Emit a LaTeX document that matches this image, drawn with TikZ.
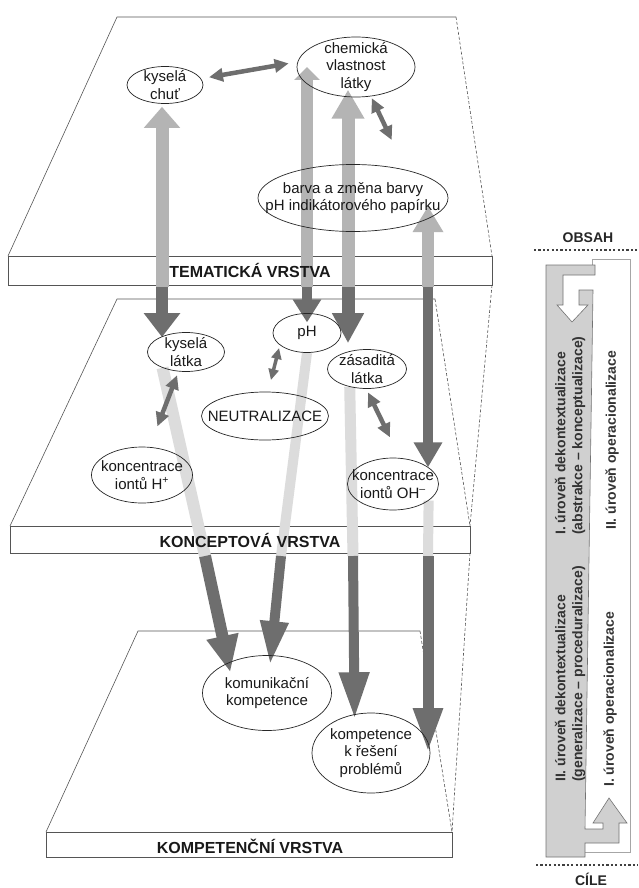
\documentclass[tikz,border=0pt]{standalone}
\usepackage{fontspec}
\setmainfont{Liberation Sans}
\usetikzlibrary{arrows.meta,shapes.geometric,calc}
\pgfdeclarelayer{back}
\pgfdeclarelayer{mid}
\pgfsetlayers{back,mid,main}
\definecolor{darkarr}{HTML}{6E6E6E}
\definecolor{lightarr}{HTML}{B4B4B4}
\definecolor{palearr}{HTML}{DCDCDC}
\definecolor{barfill}{HTML}{D0D0D0}
\definecolor{edgegray}{HTML}{555555}

\begin{document}
\begin{tikzpicture}[x=1pt,y=-1pt,
  concept/.style 2 args={ellipse,draw=black!85,line width=0.7pt,inner sep=0pt,minimum width=#1,minimum height=#2},
  every label/.style={align=center,inner sep=0pt,font=\fontsize{15}{17.5}\selectfont,text=black!90},
  layeredge/.style={draw=edgegray,line width=0.6pt},
  bandtext/.style={anchor=base,font=\fontsize{16}{19}\selectfont\bfseries,text=black!90},
  upline/.style={draw=lightarr,line width=#1},
  downline/.style={draw=darkarr,line width=#1},
  paleline/.style={draw=palearr,line width=#1},
  bighead/.style 2 args={-{Triangle[width=#1,length=#2]}},
  twoway/.style={draw=darkarr,line width=4.5pt,{Triangle[width=13pt,length=14pt]}-{Triangle[width=13pt,length=14pt]}},
  sidetext/.style={rotate=90,anchor=west,align=left,inner sep=0pt,font=\fontsize{14}{17}\selectfont\bfseries,text=black!80},
  endtext/.style={anchor=base,font=\fontsize{14}{17}\selectfont\bfseries,text=black!85},
  dotline/.style={draw=black!75,line width=2.2pt,dash pattern=on 2.2pt off 2.2pt}]
\useasboundingbox (0,0) rectangle (638,888);

\node[concept={76pt}{37pt},label={center:kyselá\\chuť}] (kchut) at (165,85) {};
\node[concept={118pt}{60pt},label={center:chemická\\vlastnost\\látky}] (chem) at (356,67) {};
\node[concept={190pt}{67pt},label={center:barva a změna barvy\\pH indikátorového papírku}] (barva) at (353,198) {};
\node[concept={68pt}{39pt},label={center:pH}] (ph) at (307,333) {};
\node[concept={77pt}{39pt},label={center:kyselá\\látka}] (klat) at (186,352) {};
\node[concept={79pt}{39pt},label={center:zásaditá\\látka}] (zlat) at (367,369) {};
\node[concept={127pt}{48pt},label={center:NEUTRALIZACE}] (neut) at (265,416) {};
\node[concept={101pt}{56pt},label={center:koncentrace\\iontů H\textsuperscript{+}}] (kh) at (142,475) {};
\node[concept={91pt}{52pt},label={center:koncentrace\\iontů OH\textsuperscript{--}}] (koh) at (393,484) {};
\node[concept={129pt}{75pt},label={center:komunikační\\kompetence}] (kom) at (267,693) {};
\node[concept={118pt}{80pt},label={center:kompetence\\k řešení\\problémů}] (kres) at (371,753) {};

\node[bandtext] (tband) at (250,277) {TEMATICKÁ VRSTVA};
\node[bandtext] (cband) at (250,547) {KONCEPTOVÁ VRSTVA};
\node[bandtext] (kband) at (250,853) {KOMPETENČNÍ VRSTVA};

\foreach \col/\xa/\xb in {a/162/205, b/307/281, c/348/353, d/428/428} {
  \coordinate (\col1) at (\xa,287);
  \coordinate (\col2) at (\xb,556);
}

\begin{pgfonlayer}{back}
\foreach \tlx/\trx/\ty/\blx/\brx/\by/\bby in {117/456/17/8/492/256/285, 117/435/299/10/470/526/553, 138/420/631/46/452/832/857} {
  \fill[white] (\tlx,\ty) -- (\trx,\ty) -- (\brx,\by) -- (\blx,\by) -- cycle;
  \draw[layeredge] (\trx,\ty) -- (\tlx,\ty) -- (\blx,\by);
  \draw[layeredge,dash pattern=on 3pt off 2pt] (\trx,\ty) -- (\brx,\by);
  \draw[layeredge,fill=white] (\blx,\by) rectangle (\brx,\bby);
}
\draw[layeredge,dash pattern=on 3pt off 2pt] (492,285) -- (470,526);
\draw[layeredge,dash pattern=on 3pt off 2pt] (470,553) -- (452,832);
\end{pgfonlayer}

\begin{pgfonlayer}{mid}
\draw[upline=13pt,bighead={35pt}{21pt},shorten >=3pt] (a1) -- (a1 |- kchut.south);
\draw[upline=12pt,bighead={25pt}{13pt}] (b1) -- (b1 |- chem.center);
\draw[upline=13pt,bighead={31pt}{29pt}] (c1) -- (c1 |- chem.-150);
\draw[upline=12pt,bighead={29pt}{26pt}] (d1) -- (d1 |- barva.-5);
\draw[downline=12pt,bighead={35pt}{24pt}] (a1) -- (a1 |- klat.150);
\draw[downline=10pt,bighead={27pt}{23pt}] (b1) -- (b1 |- ph.160);
\draw[downline=13pt,bighead={30pt}{30pt},shorten >=6pt] (c1) -- (c1 |- zlat.north);
\draw[downline=10pt,bighead={27pt}{25pt}] (d1) -- (d1 |- koh.25);
\draw[paleline=12pt] (klat.-146) -- (a2);
\draw[paleline=10pt] (ph.south) -- (b2);
\draw[paleline=11pt] (zlat.-134) -- (c2);
\draw[paleline=10pt] (koh.-25) -- (d2);
\draw[downline=12pt,bighead={30pt}{37pt},shorten >=-10pt] (a2) -- (kom.142);
\draw[downline=10pt,bighead={26pt}{44pt},shorten >=-10pt] (b2) -- (kom.84);
\draw[downline=10pt,bighead={28pt}{47pt},shorten >=-5pt] (c2) -- (kres.113);
\draw[downline=11pt,bighead={27pt}{45pt}] (d2) -- (d2 |- kres.east);
\draw[twoway,shorten <=8pt,shorten >=9pt] (kchut.10) -- (chem.175);
\draw[twoway,shorten <=2pt,shorten >=33pt] (chem.-63) -- (barva.28);
\draw[twoway,shorten <=4pt,shorten >=22pt] (klat.-111) -- (kh.75);
\draw[twoway,line width=3.5pt,{Triangle[width=10pt,length=11pt]}-{Triangle[width=10pt,length=11pt]},shorten <=3pt,shorten >=12pt] (ph.204) -- (neut.83);
\draw[twoway,shorten <=4pt,shorten >=23pt] (zlat.-92) -- (koh.75);
\end{pgfonlayer}

\draw[draw=black!35,line width=0.6pt] (592,265) -- (592,259) -- (630,259) -- (630,852) -- (585,852);
\filldraw[fill=barfill,draw=black!55,line width=0.6pt] (593,290) -- (585,829) -- (603,829) -- (603,823) -- (593,823) -- (609,798) -- (627,823) -- (619,823) -- (619,843) -- (585,843) -- (585,857) -- (546,857) -- (546,265) -- (595,265) -- (595,275) -- (563,275) -- (563,305) -- (557,305) -- (572,322) -- (588,305) -- (579,305) -- (579,290) -- cycle;
\node[sidetext] (dek1) at (570,535) {I. úroveň dekontextualizace\\(abstrakce – konceptualizace)};
\node[sidetext] (dek2) at (570,782) {II. úroveň dekontextualizace\\(generalizace – proceduralizace)};
\node[sidetext] (op2) at (612,530) {II. úroveň operacionalizace};
\node[sidetext] (op1) at (610,787) {I. úroveň operacionalizace};
\draw[dotline] (534,250) -- (638,250);
\draw[dotline] (536,865) -- (638,865);
\node[endtext] (obsah) at (588,242) {OBSAH};
\node[endtext] (cile) at (591,885) {CÍLE};
\end{tikzpicture}
\end{document}
